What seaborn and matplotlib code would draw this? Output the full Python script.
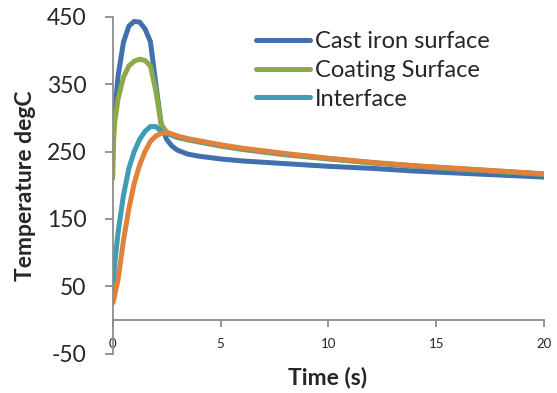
import numpy as np
import pandas as pd
import matplotlib
matplotlib.use("Agg")
import matplotlib.pyplot as plt
import seaborn as sns

# ---- data ----
time_s = [0, 0.05, 0.1, 0.25, 0.5, 0.75, 1.0, 1.25, 1.5, 1.75, 2.0, 2.25, 2.5,
          2.75, 3.0, 3.5, 4, 5, 6, 8, 10, 12, 14, 16, 18, 20]
cast_iron_surface = [262, 285, 310, 362, 412, 436, 443, 442, 432, 413, 350, 290, 268,
                     258, 252, 246, 243, 239, 236, 232, 228, 225, 221, 218, 215, 212]
coating_surface = [210, 270, 295, 328, 360, 377, 384, 387, 385, 377, 340, 290, 279,
                   274, 271, 267, 264, 258, 253, 245, 239, 233, 228, 224, 220, 216]
interface = [40, 62, 85, 130, 185, 225, 250, 268, 280, 287, 287, 280, 277,
             274, 271, 268, 265, 259, 254, 246, 239.5, 233.5, 228.5, 224.5, 220.5, 216.5]
series4 = [25, 30, 38, 60, 118, 165, 203, 230, 250, 265, 273, 277, 278,
           276, 273, 269, 266, 260, 255, 247, 240, 234, 229, 225, 221, 217]

series_names = ["Cast iron surface", "Coating Surface", "Interface", "Series 4"]
series_values = [cast_iron_surface, coating_surface, interface, series4]
colors = ["#4170AD", "#8DAA4B", "#409CB5", "#E0823A"]

x_ticks = [0, 5, 10, 15, 20]
y_ticks = [-50, 50, 150, 250, 350, 450]

df = pd.concat([pd.DataFrame({"Time": time_s, "Temp": v, "Series": n})
                for n, v in zip(series_names, series_values)], ignore_index=True)

sns.set_style("white")
plt.rcParams["font.family"] = ["Lato", "DejaVu Sans"]
plt.rcParams["axes.unicode_minus"] = False

fig = plt.figure(figsize=(5.57, 3.93), dpi=100)
ax = fig.add_axes([0.2023, 0.10, 0.7744, 0.8575])

sns.lineplot(data=df, x="Time", y="Temp", hue="Series", hue_order=series_names,
             palette=colors, linewidth=3.6, sort=False, ax=ax, legend=False,
             estimator=None)
for ln in ax.get_lines():
    ln.set_solid_capstyle("round")
    ln.set_solid_joinstyle("round")

ax.set_xlim(0, 20)
ax.set_ylim(-50, 450)
ax.set_xticks(x_ticks)
ax.set_yticks(y_ticks)

for s in ["top", "right"]:
    ax.spines[s].set_visible(False)
ax.spines["bottom"].set_position(("data", 0))
for s in ["left", "bottom"]:
    ax.spines[s].set_color("#8C8C8C")
    ax.spines[s].set_linewidth(1.3)

ax.tick_params(axis="y", direction="out", length=5.8, width=1.3, color="#8C8C8C",
               labelsize=16.5, pad=13, left=True)
ax.tick_params(axis="x", direction="out", length=5, width=1.3, color="#8C8C8C",
               labelsize=9.5, pad=8, bottom=True)

ax.set_xlabel("Time (s)", fontsize=16.5, fontweight="bold")
ax.set_ylabel("Temperature degC", fontsize=16.5, fontweight="bold")
ax.xaxis.set_label_coords(328 / 557, 1 - 377 / 393, transform=fig.transFigure)
ax.xaxis.label.set_verticalalignment("center")
ax.yaxis.set_label_coords(26 / 557, 1 - 186 / 393, transform=fig.transFigure)
ax.yaxis.label.set_verticalalignment("center")

lines = ax.get_lines()[:3]
ax.legend(lines, series_names[:3], loc="upper left",
          bbox_to_anchor=(256 / 557, 1 - 31 / 393), bbox_transform=fig.transFigure,
          frameon=False, fontsize=17, handlelength=2.3, handletextpad=0.2,
          labelspacing=0.33, borderpad=0, borderaxespad=0)

fig.savefig("out.png", dpi=100)
